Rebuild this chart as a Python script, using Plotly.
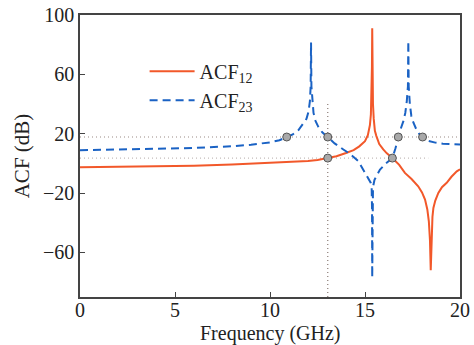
import plotly.graph_objects as go

# ACF12 (solid)
acf12_x = [0, 2, 4, 6, 8, 10, 11, 12, 12.5, 13.04, 13.5, 14.0, 14.4, 14.7, 15.0, 15.15, 15.26,
           15.31, 15.34, 15.365, 15.38, 15.395, 15.42, 15.46, 15.52, 15.6, 15.75, 15.96, 16.15,
           16.44, 16.8, 17.1, 17.45, 17.8, 18.0, 18.16, 18.28, 18.36, 18.42, 18.46, 18.5, 18.55,
           18.6, 18.7, 18.86, 19.05, 19.3, 19.55, 19.83, 20]
acf12_y = [-2.6, -2.4, -2.0, -1.5, -0.8, 0.2, 0.8, 1.6, 2.3, 3.6, 4.8, 7.0, 9.0, 11.5, 15.0,
           19, 26, 33, 45, 65, 91, 65, 40, 30, 22, 18.4, 13, 9.4, 6.8, 3.6, -1, -6.4, -10.5,
           -15.4, -19.5, -24.4, -31, -39, -52, -72, -48, -36, -30, -25, -19.9, -16, -13.1, -9,
           -5.3, -4]

# ACF23 (dashed)
acf23_x = [0, 2, 4, 6, 8, 9, 10, 10.5, 10.88, 11.2, 11.5, 11.75, 11.92, 12.03, 12.1, 12.14,
           12.16, 12.18, 12.22, 12.29, 12.4, 12.55, 12.75, 13.04, 13.4, 13.86, 14.2, 14.65, 15.0,
           15.2, 15.3, 15.35, 15.37, 15.38, 15.39, 15.42, 15.5, 15.79, 16.1, 16.44, 16.6, 16.75,
           16.9, 17.02, 17.12, 17.2, 17.26, 17.28, 17.3, 17.36, 17.44, 17.55, 17.7, 17.85, 18.03,
           18.3, 18.7, 19.1, 19.5, 20]
acf23_y = [8.9, 9.3, 9.8, 10.4, 11.6, 12.6, 14.2, 15.6, 17.8, 19.6, 22.5, 26.5, 30, 35, 42, 52,
           81.5, 52, 42, 34, 28.5, 24.5, 21, 17.8, 13.5, 9.4, 6.5, 1.5, -6.4, -10, -13, -16, -30,
           -77, -30, -16, -11, -4.1, 0, 3.6, 10, 17.8, 24, 28.5, 34, 42, 52, 82.5, 52, 40, 32,
           27.4, 23, 20, 17.8, 15.3, 14, 13.3, 13, 12.8]

# marked points
pts_x = [10.88, 13.04, 13.04, 16.44, 16.75, 18.03]
pts_y = [17.8, 17.8, 3.6, 3.6, 17.8, 17.8]

# reference guide lines
hline_hi = 17.8
hline_lo = 3.6
hline_lo_end = 18.33
vline_x = 13.04
vline_top = 40

x_ticks = [0, 5, 10, 15, 20]
y_ticks = [100, 60, 20, -20, -60]
y_ticktext = ["100", "60", "20", "\u221220", "\u221260"]

RED = "#f2582a"
BLUE = "#1a62c4"
FONT = "Liberation Serif"

fig = go.Figure()

fig.add_trace(go.Scatter(x=[0, 20], y=[hline_hi, hline_hi], mode="lines", showlegend=False,
                         line=dict(color="#9a8a84", width=1.2, dash="1px,3px"), hoverinfo="skip"))
fig.add_trace(go.Scatter(x=[0, hline_lo_end], y=[hline_lo, hline_lo], mode="lines", showlegend=False,
                         line=dict(color="#c4bcba", width=1.2, dash="1px,3px"), hoverinfo="skip"))
fig.add_trace(go.Scatter(x=[vline_x, vline_x], y=[vline_top, -90], mode="lines", showlegend=False,
                         line=dict(color="#8a7a74", width=1.2, dash="1px,3px"), hoverinfo="skip"))

fig.add_trace(go.Scatter(x=acf12_x, y=acf12_y, mode="lines", name="ACF<sub>12</sub>",
                         line=dict(color=RED, width=2)))
fig.add_trace(go.Scatter(x=acf23_x, y=acf23_y, mode="lines", name="ACF<sub>23</sub>",
                         line=dict(color=BLUE, width=2, dash="8px,5px")))

fig.add_trace(go.Scatter(x=pts_x, y=pts_y, mode="markers", showlegend=False,
                         marker=dict(size=8, color="#a9a9a9", line=dict(color="#555555", width=1))))

fig.update_layout(
    width=474, height=345,
    margin=dict(l=80, r=14, t=15, b=48),
    paper_bgcolor="white", plot_bgcolor="white",
    font=dict(family=FONT, size=20, color="#222222"),
    showlegend=True,
    legend=dict(x=0.17, y=0.87, xanchor="left", yanchor="top", bgcolor="rgba(0,0,0,0)",
                font=dict(family=FONT, size=20), tracegroupgap=0, itemwidth=45),
)
fig.add_annotation(text="Frequency (GHz)", xref="paper", yref="paper", x=0.5, y=-0.13,
                   xanchor="center", yanchor="middle", showarrow=False,
                   font=dict(family=FONT, size=20, color="#222222"))
fig.update_xaxes(range=[0, 20], tickvals=x_ticks, ticks="inside", ticklen=5, tickcolor="#444",
                 showline=True, linecolor="#444", linewidth=1.5, mirror=True, showgrid=False,
                 zeroline=False, automargin=False, ticklabelstandoff=-6)
fig.update_yaxes(range=[-90, 100], tickvals=y_ticks, ticktext=y_ticktext, ticks="inside", ticklen=5,
                 tickcolor="#444", showline=True, linecolor="#444", linewidth=1.5, mirror=True,
                 showgrid=False, zeroline=False, automargin=False,
                 title=dict(text="ACF (dB)", standoff=8, font=dict(size=21)))

fig.write_html("out.html", config={"displayModeBar": False})
with open("out.html", "r", encoding="utf-8") as f:
    html = f.read()
html = html.replace("<body>", "<body style=\"margin:0;overflow:hidden\">", 1)
with open("out.html", "w", encoding="utf-8") as f:
    f.write(html)
